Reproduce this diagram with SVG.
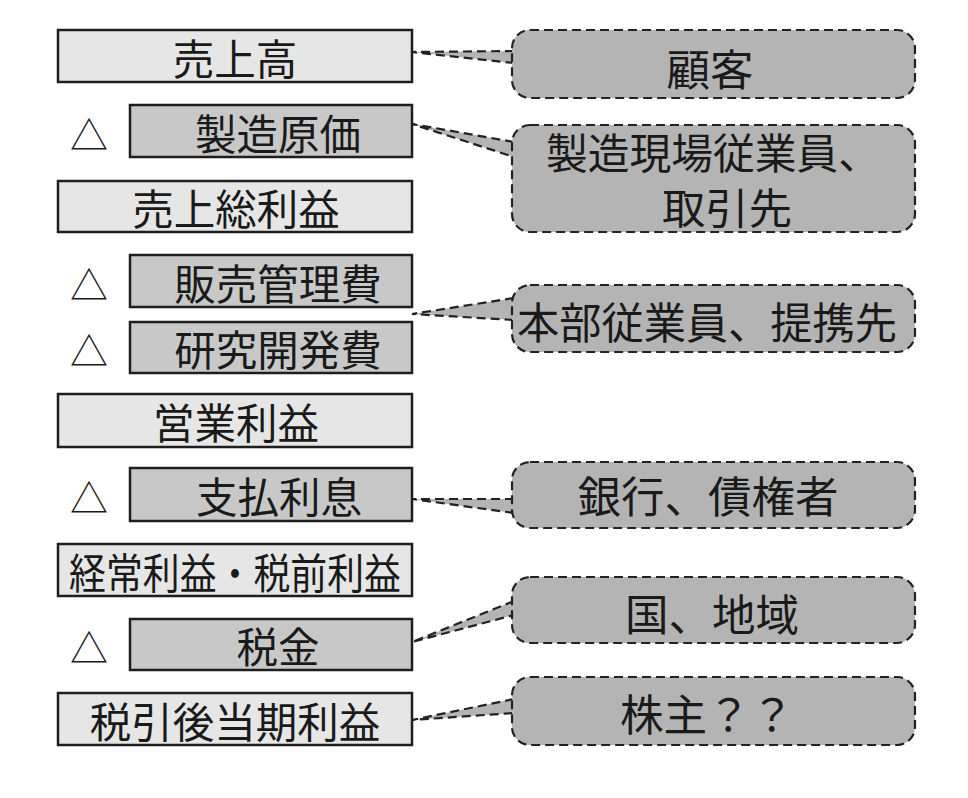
<svg xmlns="http://www.w3.org/2000/svg" width="968" height="798" viewBox="0 0 968 798">
<style>
text{font-family:"Noto Sans CJK JP","Noto Sans CJK SC",sans-serif;fill:#1a1a1a;text-anchor:middle;dominant-baseline:central}
.lt{font-size:41.5px}
.ct{font-size:43.5px}
.ct2{font-size:42px}
.tri{font-size:38px}
.light{fill:#e6e6e6;stroke:#1e1e1e;stroke-width:2.5}
.dark{fill:#c8c8c8;stroke:#1e1e1e;stroke-width:2.5}
.call{fill:#b4b4b4;stroke:#222;stroke-width:2.2;stroke-dasharray:9 5}
.wedge{fill:#b4b4b4;stroke:#222;stroke-width:2.2;stroke-dasharray:9 5}
</style>
<rect width="968" height="798" fill="#ffffff"/>
<g id="connectors">
<path class="wedge" d="M514,51 L412,52 L514,63"/>
<path class="wedge" d="M514,142 L412,124 L514,157"/>
<path class="wedge" d="M514,298 L412,314 L514,320"/>
<path class="wedge" d="M514,499 L412,499 L514,513"/>
<path class="wedge" d="M514,601 L412,642 L514,615"/>
<path class="wedge" d="M514,699 L412,720 L514,713"/>
</g>
<g id="n-uriage"><rect class="light" x="58" y="30" width="354" height="52"/><text class="lt" x="235" y="57">売上高</text></g>
<g id="n-seizou"><text class="tri" x="89" y="132">△</text><rect class="dark" x="130" y="105" width="282" height="52"/><text class="lt" x="278" y="132">製造原価</text></g>
<g id="n-sourieki"><rect class="light" x="58" y="181" width="354" height="51"/><text class="lt" x="236" y="207">売上総利益</text></g>
<g id="n-hanbai"><text class="tri" x="89" y="282">△</text><rect class="dark" x="130" y="255" width="282" height="52"/><text class="lt" x="278" y="282">販売管理費</text></g>
<g id="n-kenkyu"><text class="tri" x="89" y="348">△</text><rect class="dark" x="130" y="322" width="282" height="51"/><text class="lt" x="278" y="348">研究開発費</text></g>
<g id="n-eigyo"><rect class="light" x="58" y="394" width="354" height="53"/><text class="lt" x="236" y="421">営業利益</text></g>
<g id="n-shiharai"><text class="tri" x="89" y="495">△</text><rect class="dark" x="130" y="468" width="282" height="53"/><text class="lt" x="279" y="495">支払利息</text></g>
<g id="n-keijo"><rect class="light" x="58" y="544" width="354" height="52"/><text class="lt" x="235" y="571" textLength="332" lengthAdjust="spacingAndGlyphs">経常利益・税前利益</text></g>
<g id="n-zeikin"><text class="tri" x="89" y="645">△</text><rect class="dark" x="130" y="619" width="282" height="51"/><text class="lt" x="278" y="645">税金</text></g>
<g id="n-zeibiki"><rect class="light" x="58" y="693" width="354" height="52"/><text class="lt" x="235" y="720">税引後当期利益</text></g>
<g id="c-kokyaku"><rect class="call" x="512" y="30" width="403" height="68" rx="18"/><text class="ct" x="710" y="67">顧客</text></g>
<g id="c-seizou"><rect class="call" x="512" y="125" width="403" height="107" rx="18"/><text class="ct2" x="713" y="150" textLength="334" lengthAdjust="spacingAndGlyphs">製造現場従業員、</text><text class="ct2" x="727" y="205" textLength="130" lengthAdjust="spacingAndGlyphs">取引先</text></g>
<g id="c-honbu"><rect class="call" x="512" y="285" width="403" height="67" rx="18"/><text class="ct" x="707" y="320" textLength="380" lengthAdjust="spacingAndGlyphs">本部従業員、提携先</text></g>
<g id="c-ginko"><rect class="call" x="512" y="462" width="403" height="66" rx="18"/><text class="ct" x="708" y="494">銀行、債権者</text></g>
<g id="c-kuni"><rect class="call" x="512" y="577" width="403" height="66" rx="18"/><text class="ct" x="712" y="612">国、地域</text></g>
<g id="c-kabunushi"><rect class="call" x="512" y="677" width="403" height="68" rx="18"/><text class="ct" x="707" y="712">株主？？</text></g>
</svg>
